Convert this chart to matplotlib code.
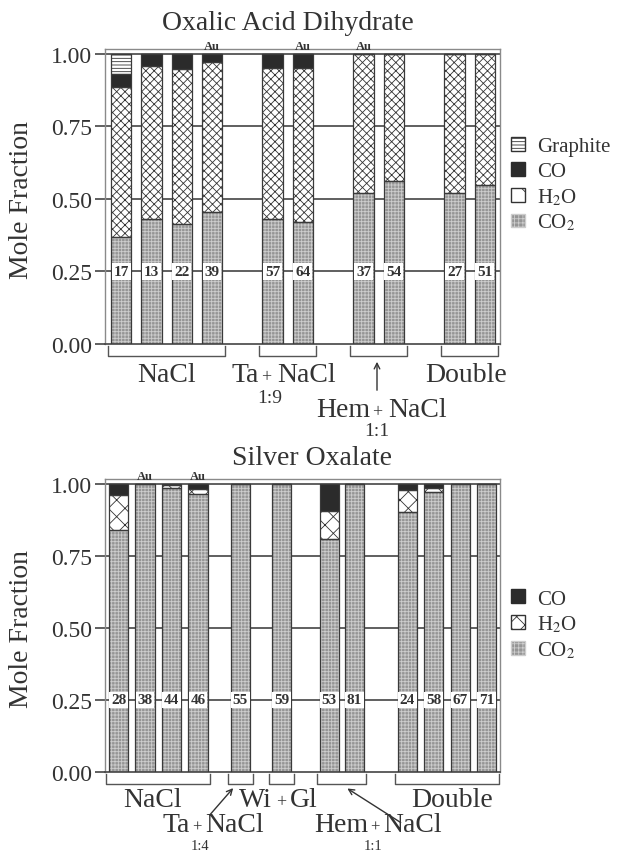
import matplotlib
matplotlib.use("Agg")
import matplotlib.pyplot as plt
from matplotlib.patches import Patch

plt.rcParams['font.family'] = ['Liberation Serif', 'DejaVu Serif']
plt.rcParams['mathtext.fontset'] = 'stix'
plt.rcParams['hatch.linewidth'] = 0.6

# ---- data: Oxalic Acid Dihydrate ----
top_labels = ['17', '13', '22', '39', '57', '64', '37', '54', '27', '51']
top_pos = [0, 1, 2, 3, 5, 6, 8, 9, 11, 12]
top_co2 = [0.370, 0.430, 0.415, 0.455, 0.430, 0.420, 0.520, 0.562, 0.520, 0.548]
top_h2o = [0.515, 0.530, 0.533, 0.517, 0.521, 0.531, 0.480, 0.438, 0.480, 0.452]
top_co = [0.045, 0.040, 0.052, 0.028, 0.049, 0.049, 0, 0, 0, 0]
top_graphite = [0.070, 0, 0, 0, 0, 0, 0, 0, 0, 0]
top_au = [3, 5, 6]
top_groups = [(0, 3), (4, 5), (6, 7), (8, 9)]

# ---- data: Silver Oxalate ----
bot_labels = ['28', '38', '44', '46', '55', '59', '53', '81', '24', '58', '67', '71']
bot_pos = [0, 1, 2, 3, 4.6, 6.15, 7.95, 8.9, 10.9, 11.9, 12.9, 13.9]
bot_co2 = [0.840, 1.0, 0.985, 0.965, 1.0, 1.0, 0.810, 1.0, 0.903, 0.972, 1.0, 1.0]
bot_h2o = [0.122, 0, 0.010, 0.017, 0, 0, 0.097, 0, 0.077, 0.013, 0, 0]
bot_co = [0.038, 0, 0.005, 0.018, 0, 0, 0.093, 0, 0.020, 0.015, 0, 0]
bot_au = [1, 3]
bot_groups = [(0, 3), (4, 4), (5, 5), (6, 7), (8, 11)]

W, H = 618, 854
fig = plt.figure(figsize=(W / 100, H / 100), dpi=100)

def fx(x):
    return x / W

def fy(y):
    return 1 - y / H

DARK = '#3a3a3a'
TXT = '#333333'
styles = {
    'CO2': dict(fc='#959595', hc='#cdcdcd', hatch='+++++'),
    'H2O': dict(fc='white', hc='#333333', hatch='xxxx'),
    'H2O_b': dict(fc='white', hc='#333333', hatch='xx'),
    'CO': dict(fc='#2b2b2b', hc='#2b2b2b', hatch=None),
    'Graphite': dict(fc='white', hc='#333333', hatch='-----'),
}


def segment(ax, pos, vals, bottoms, st, width):
    s = styles[st]
    ax.bar(pos, vals, width, bottom=bottoms, color=s['fc'], edgecolor=s['hc'],
           hatch=s['hatch'], linewidth=0, zorder=2)
    ax.bar(pos, vals, width, bottom=bottoms, fill=False, edgecolor=DARK,
           linewidth=0.9, zorder=3)


def panel(rect, pos, layers, labels, au, groups, xlim, width, ytop):
    ax = fig.add_axes(rect)
    bottoms = [0.0] * len(pos)
    for vals, st in layers:
        segment(ax, pos, vals, bottoms, st, width)
        bottoms = [b + v for b, v in zip(bottoms, vals)]
    for g in [0.25, 0.5, 0.75, 1.0]:
        ax.axhline(g, color='#444444', lw=1.2, zorder=1)
    ax.set_xlim(*xlim)
    ax.set_ylim(0, ytop)
    ax.set_xticks([])
    ax.set_yticks([0, 0.25, 0.5, 0.75, 1.0])
    ax.set_yticklabels(['0.00', '0.25', '0.50', '0.75', '1.00'])
    ax.tick_params(axis='y', direction='out', length=7, width=1.2,
                   color='#444444', labelsize=17, pad=2, labelcolor=TXT)
    for side in ['left', 'top', 'right']:
        ax.spines[side].set_color('#8a8a8a')
        ax.spines[side].set_linewidth(1.0)
    ax.spines['bottom'].set_color('#444444')
    ax.spines['bottom'].set_linewidth(1.2)
    for p, lab in zip(pos, labels):
        ax.text(p, 0.25, lab, ha='center', va='center', fontsize=11,
                fontweight='bold', color=TXT, zorder=5,
                bbox=dict(boxstyle='square,pad=0.12', fc='white', ec='none'))
    for i in au:
        ax.text(pos[i], ytop + 0.012, 'Au', ha='center', va='center',
                fontsize=9, fontweight='bold', color=TXT, clip_on=False)
    # brackets below the axis
    fig.canvas.draw()
    unit = ax.transData.transform((0, 1))[1] - ax.transData.transform((0, 0))[1]
    y0, y1 = -2 / unit, -12 / unit
    for a, b in groups:
        xa = pos[a] - width / 2 - 0.1
        xb = pos[b] + width / 2 + 0.1
        ax.plot([xa, xa, xb, xb], [y0, y1, y1, y0], color='#555555', lw=1.0,
                clip_on=False)
    return ax


def combo(left, right, x, y, gl=7, gr=9, psize=13):
    fig.text(fx(x - gl), fy(y), left, ha='right', va='baseline', fontsize=20, color=TXT)
    fig.text(fx(x), fy(y), '+', ha='center', va='baseline', fontsize=psize, color=TXT)
    fig.text(fx(x + gr), fy(y), right, ha='left', va='baseline', fontsize=20, color=TXT)


def arrow(tail, tip):
    plt.annotate('', xy=(tip[0], H - tip[1]), xytext=(tail[0], H - tail[1]),
                 xycoords='figure pixels', textcoords='figure pixels',
                 arrowprops=dict(arrowstyle='->', color=TXT, lw=1.0))


# ---- top panel ----
ax1 = panel([105 / W, fy(345), 395 / W, 295 / H], top_pos,
            [(top_co2, 'CO2'), (top_h2o, 'H2O'), (top_co, 'CO'), (top_graphite, 'Graphite')],
            top_labels, top_au, top_groups, (-0.53, 12.5), 0.67, 1.017)
fig.text(fx(288), fy(30), 'Oxalic Acid Dihydrate', ha='center', va='baseline',
         fontsize=20, color=TXT)
fig.text(fx(22), fy(200), 'Mole Fraction', rotation=90, ha='center', va='center',
         fontsize=20, color=TXT)
fig.text(fx(167), fy(382), 'NaCl', ha='center', va='baseline', fontsize=20, color=TXT)
combo('Ta', 'NaCl', 266, 382, 7, 11)
fig.text(fx(270), fy(399), '1:9', ha='center', va='center', fontsize=14, color=TXT)
combo('Hem', 'NaCl', 377, 417, 7, 11)
fig.text(fx(377), fy(432), '1:1', ha='center', va='center', fontsize=14, color=TXT)
arrow((377, 394), (377, 360))
fig.text(fx(466), fy(382), 'Double', ha='center', va='baseline', fontsize=20, color=TXT)

h1 = [Patch(fc='white', ec='#333333', hatch='-----', label='Graphite'),
      Patch(fc='#2b2b2b', ec='#2b2b2b', label='CO'),
      Patch(fc='white', ec='#333333', hatch='x', label='H$_2$O'),
      Patch(fc='#959595', ec='#cdcdcd', hatch='++++', label='CO$_2$')]
fig.legend(handles=h1, loc='center left', bbox_to_anchor=(fx(511), fy(186)),
           frameon=False, fontsize=15, handlelength=0.65, handleheight=0.65,
           handletextpad=0.6, labelspacing=0.25, borderpad=0, borderaxespad=0,
           labelcolor=TXT)

# ---- bottom panel ----
ax2 = panel([105 / W, fy(773), 395 / W, 293 / H], bot_pos,
            [(bot_co2, 'CO2'), (bot_h2o, 'H2O_b'), (bot_co, 'CO')],
            bot_labels, bot_au, bot_groups, (-0.51, 14.4), 0.72, 1.017)
fig.text(fx(312), fy(465), 'Silver Oxalate', ha='center', va='baseline',
         fontsize=20, color=TXT)
fig.text(fx(22), fy(629), 'Mole Fraction', rotation=90, ha='center', va='center',
         fontsize=20, color=TXT)
fig.text(fx(153), fy(807), 'NaCl', ha='center', va='baseline', fontsize=20, color=TXT)
combo('Wi', 'Gl', 281, 807, 9, 9)
fig.text(fx(452), fy(807), 'Double', ha='center', va='baseline', fontsize=20, color=TXT)
combo('Ta', 'NaCl', 197, 832, 7, 8, psize=12)
combo('Hem', 'NaCl', 375, 832, 7, 8, psize=12)
fig.text(fx(200), fy(853.5), '1:4', ha='center', va='bottom', fontsize=10.5, color=TXT)
fig.text(fx(373), fy(853.5), '1:1', ha='center', va='bottom', fontsize=10.5, color=TXT)
arrow((208, 818), (235, 787))
arrow((403, 825), (345, 788))

h2 = [Patch(fc='#2b2b2b', ec='#2b2b2b', label='CO'),
      Patch(fc='white', ec='#333333', hatch='xx', label='H$_2$O'),
      Patch(fc='#959595', ec='#cdcdcd', hatch='++++', label='CO$_2$')]
fig.legend(handles=h2, loc='center left', bbox_to_anchor=(fx(511), fy(626)),
           frameon=False, fontsize=15, handlelength=0.65, handleheight=0.65,
           handletextpad=0.6, labelspacing=0.25, borderpad=0, borderaxespad=0,
           labelcolor=TXT)

fig.savefig('out.png', dpi=100)
